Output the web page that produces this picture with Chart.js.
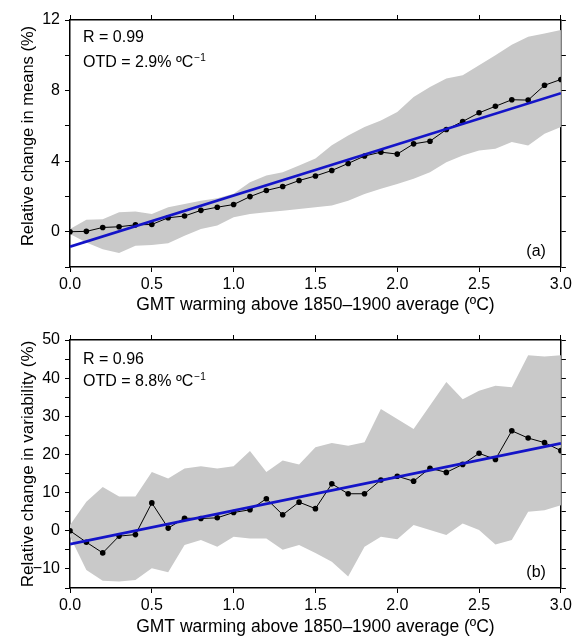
<!DOCTYPE html>
<html>
<head>
<meta charset="utf-8">
<script src="https://cdn.jsdelivr.net/npm/chart.js@4.4.1/dist/chart.umd.min.js"></script>
<style>
  html, body { margin: 0; padding: 0; background: #fff; }
  #wrap { width: 575px; height: 636px; position: relative; }
  canvas { display: block; }
</style>
</head>
<body>
<div id="wrap">
  <canvas id="chartA" width="575" height="318"></canvas>
  <canvas id="chartB" width="575" height="318"></canvas>
</div>
<script>
// ---------- DATA ----------
const warming = [0.0, 0.1, 0.2, 0.3, 0.4, 0.5, 0.6, 0.7, 0.8, 0.9, 1.0, 1.1, 1.2, 1.3, 1.4, 1.5,
                 1.6, 1.7, 1.8, 1.9, 2.0, 2.1, 2.2, 2.3, 2.4, 2.5, 2.6, 2.7, 2.8, 2.9, 3.0];

// Panel (a): relative change in means (%)
const meansValues = [0, 0.02, 0.24, 0.28, 0.39, 0.41, 0.79, 0.89, 1.21, 1.39, 1.54, 1.99, 2.34, 2.56, 2.90, 3.16,
                     3.47, 3.87, 4.29, 4.51, 4.40, 4.98, 5.13, 5.79, 6.25, 6.74, 7.11, 7.48, 7.46, 8.30, 8.63];
const meansUpper  = [0.15, 0.68, 0.70, 1.10, 1.14, 1.00, 1.38, 1.57, 1.76, 1.90, 2.15, 2.81, 3.19, 3.37, 3.75, 4.15,
                     4.90, 5.46, 5.93, 6.30, 6.79, 7.64, 8.20, 8.68, 8.87, 9.44, 10.0, 10.6, 11.05, 11.24, 11.43];
const meansLower  = [-0.13, -0.61, -0.99, -1.21, -0.80, -0.76, -0.65, -0.23, 0.15, 0.35, 0.82, 1.00, 1.10, 1.19, 1.29, 1.38,
                     1.48, 1.76, 2.14, 2.43, 2.71, 3.00, 3.37, 3.94, 4.32, 4.60, 4.70, 5.08, 4.89, 5.55, 5.93];
const fitX = [0, 3];
const meansFit = [-0.85, 7.85];

// Panel (b): relative change in variability (%)
const varValues = [0, -3.0, -5.8, -1.4, -1.0, 7.3, 0.7, 3.3, 3.2, 3.4, 4.8, 5.5, 8.4, 4.2, 7.5, 5.8,
                   12.3, 9.7, 9.7, 13.3, 14.3, 13.0, 16.4, 15.3, 17.4, 20.3, 18.7, 26.2, 24.3, 23.1, 21.0];
const varUpper  = [1.5, 7.6, 11.5, 9.0, 9.0, 15.4, 13.7, 16.3, 16.9, 16.3, 16.9, 20.9, 15.4, 18.4, 17.4, 21.9,
                   23.0, 22.3, 23.2, 31.9, 29.3, 26.7, 32.8, 39.0, 34.5, 36.7, 38.0, 37.6, 46.0, 45.7, 46.0];
const varLower  = [-1.5, -10.3, -13.1, -13.3, -12.9, -9.8, -10.9, -3.7, -2.4, -4.2, -1.6, -2.0, -2.0, -5.0, -3.7, -5.8,
                   -8.1, -12.0, -4.2, -1.6, -2.2, 1.5, 0.2, -1.1, 1.9, 0.2, -3.6, -2.4, 5.0, 5.4, 6.7];
const varFit = [-3.5, 22.9];

// Tick settings
const xTickValues = [0.0, 0.5, 1.0, 1.5, 2.0, 2.5, 3.0];
const meansYRange = [-2, 12];
const meansYStep = 2;
const meansYLabelEvery = 4;
const varYRange = [-15, 50];
const varYStep = 5;
const varYLabelEvery = 10;

const xTitle = 'GMT warming above 1850\u20131900 average (\u00baC)';
const meansTitle = 'Relative change in means (%)';
const varTitle = 'Relative change in variability (%)';
const meansStats = ['R = 0.99', 'OTD = 2.9% \u00baC', '\u22121', '(a)'];
const varStats = ['R = 0.96', 'OTD = 8.8% \u00baC', '\u22121', '(b)'];

// ---------- HELPERS ----------
const FONT = '"Liberation Sans", Arial, Helvetica, sans-serif';
Chart.defaults.font.family = FONT;
Chart.defaults.font.size = 16;
Chart.defaults.color = '#000';

const pts = (xs, ys) => xs.map((x, i) => ({ x: x, y: ys[i] }));
const fmtNum = v => (v < 0 ? '\u2212' + Math.abs(v) : String(v));

const annotPlugin = {
  id: 'annot',
  afterDatasetsDraw(chart, args, opts) {
    const { ctx, chartArea: a } = chart;
    const s = opts.stats;
    ctx.save();
    ctx.fillStyle = '#000';
    ctx.textBaseline = 'middle';
    ctx.textAlign = 'left';
    ctx.font = '16px "Liberation Sans Narrow", ' + FONT;
    ctx.fillText(s[0], a.left + 13, a.top + opts.r1);
    ctx.fillText(s[1], a.left + 13, a.top + opts.r2);
    const w = ctx.measureText(s[1]).width;
    ctx.font = '10px "Liberation Sans Narrow", ' + FONT;
    ctx.fillText(s[2], a.left + 13 + w + 1, a.top + opts.r2 - 5);
    ctx.font = '16px "Liberation Sans Narrow", ' + FONT;
    ctx.textAlign = 'right';
    ctx.fillText(s[3], a.right - 15, a.bottom - 15);
    // y-axis title (rotated)
    ctx.save();
    ctx.translate(opts.yTitleX, opts.yTitleY);
    ctx.rotate(-Math.PI / 2);
    ctx.textAlign = 'center';
    ctx.textBaseline = 'middle';
    ctx.font = opts.yTitleSize + 'px ' + FONT;
    ctx.fillText(opts.yTitle, 0, 0);
    ctx.restore();
    ctx.restore();
  }
};

function axisCommon() {
  return {
    grid: { display: true, drawOnChartArea: false, drawTicks: true, tickLength: 5, color: '#000', lineWidth: 1 },
    border: { display: true, color: '#000', width: 1.5 }
  };
}

function makeChart(id, cfg) {
  const xc = axisCommon(), x2c = axisCommon(), yc = axisCommon(), y2c = axisCommon();
  return new Chart(document.getElementById(id), {
    type: 'line',
    data: {
      datasets: [
        { data: pts(warming, cfg.lower), borderColor: 'rgba(0,0,0,0)', borderWidth: 0, pointRadius: 0, fill: false, order: 4, tension: 0 },
        { data: pts(warming, cfg.upper), borderColor: 'rgba(0,0,0,0)', borderWidth: 0, pointRadius: 0, fill: '-1', backgroundColor: '#c9c9c9', order: 3, tension: 0 },
        { data: pts(warming, cfg.values), borderColor: '#000', borderWidth: 1, pointRadius: 2.8, pointBackgroundColor: '#000', pointBorderWidth: 0, fill: false, order: 2, tension: 0 },
        { data: pts(fitX, cfg.fit), borderColor: '#1414c8', borderWidth: 2.6, pointRadius: 0, fill: false, order: 1, tension: 0 }
      ]
    },
    options: {
      responsive: false,
      animation: false,
      devicePixelRatio: 1,
      layout: { padding: 0 },
      plugins: {
        legend: { display: false },
        tooltip: { enabled: false },
        annot: { stats: cfg.stats, r1: cfg.r1, r2: cfg.r2, yTitle: cfg.yTitle,
                 yTitleX: 28, yTitleY: cfg.yTitleY, yTitleSize: cfg.yTitleSize }
      },
      scales: {
        x: Object.assign(xc, {
          type: 'linear', position: 'bottom', min: 0, max: 3,
          afterBuildTicks: s => { s.ticks = xTickValues.map(v => ({ value: v })); },
          ticks: { padding: 3, maxRotation: 0, autoSkip: false, callback: v => v.toFixed(1), font: { size: 16 } },
          title: { display: true, text: xTitle, font: { size: 17.5, lineHeight: 1.0 }, padding: { top: 0, bottom: cfg.xTitlePad } },
          afterFit: s => { s.height = cfg.xh; }
        }),
        x2: Object.assign(x2c, {
          type: 'linear', position: 'top', min: 0, max: 3,
          afterBuildTicks: s => { s.ticks = xTickValues.map(v => ({ value: v })); },
          ticks: { display: false },
          afterFit: s => { s.height = cfg.x2h; }
        }),
        y: Object.assign(yc, {
          type: 'linear', position: 'left', min: cfg.yRange[0], max: cfg.yRange[1],
          ticks: { stepSize: cfg.yStep, padding: 5, autoSkip: false, font: { size: 16 },
                   callback: v => (Math.abs(v % cfg.yLabelEvery) < 1e-9 ? fmtNum(v) : '') },
          afterFit: s => { s.width = 70; }
        }),
        y2: Object.assign(y2c, {
          type: 'linear', position: 'right', min: cfg.yRange[0], max: cfg.yRange[1],
          ticks: { display: false, stepSize: cfg.yStep },
          afterFit: s => { s.width = 13; }
        })
      }
    },
    plugins: [annotPlugin]
  });
}

makeChart('chartA', {
  lower: meansLower, upper: meansUpper, values: meansValues, fit: meansFit,
  yRange: meansYRange, yStep: meansYStep, yLabelEvery: meansYLabelEvery,
  yTitle: meansTitle, yTitleY: 136, yTitleSize: 16.5, stats: meansStats, r1: 18, r2: 43,
  xh: 51, x2h: 20, xTitlePad: 4
});
makeChart('chartB', {
  lower: varLower, upper: varUpper, values: varValues, fit: varFit,
  yRange: varYRange, yStep: varYStep, yLabelEvery: varYLabelEvery,
  yTitle: varTitle, yTitleY: 146, yTitleSize: 17, stats: varStats, r1: 20, r2: 42,
  xh: 48, x2h: 22, xTitlePad: 0
});
</script>
</body>
</html>
